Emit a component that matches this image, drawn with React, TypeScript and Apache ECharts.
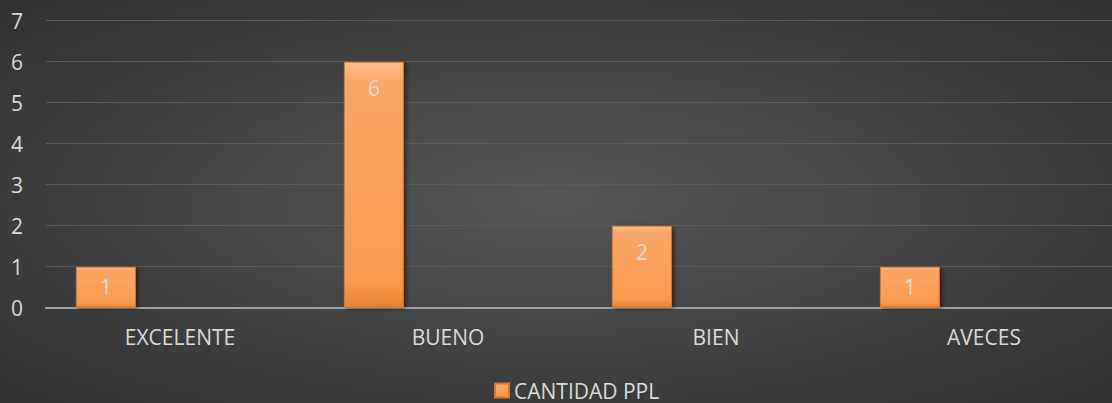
import React, { useEffect, useRef } from "react";
import * as echarts from "echarts";

const categories = ["EXCELENTE", "BUENO", "BIEN", "AVECES"];
const seriesName = "CANTIDAD PPL";
const values = [1, 6, 2, 1];
const yTicks = [0, 1, 2, 3, 4, 5, 6, 7];

const FONT = "'Open Sans', 'Noto Sans', sans-serif";
const TXT = "#d9d9d9";
const FS = 21;

export default function App() {
  const ref = useRef<HTMLDivElement>(null);
  useEffect(() => {
    document.body.style.margin = "0";
    if (!ref.current) return;
    const chart = echarts.init(ref.current, null, { renderer: "svg" });
    const barGrad = new echarts.graphic.LinearGradient(0, 0, 0, 1, [
      { offset: 0, color: "#ffc08e" },
      { offset: 0.08, color: "#fca766" },
      { offset: 0.9, color: "#f99a50" },
      { offset: 1, color: "#e7812f" },
    ]);
    chart.setOption({
      animation: false,
      backgroundColor: {
        type: "radial",
        x: 0.5,
        y: 0.5,
        r: 0.75,
        colorStops: [
          { offset: 0, color: "#565656" },
          { offset: 1, color: "#2e2e2e" },
        ],
      },
      textStyle: { fontFamily: FONT },
      grid: {
        left: 46,
        width: 1072,
        top: 20.7,
        height: 287,
        containLabel: false,
        outerBoundsMode: "none",
      },
      legend: {
        data: [seriesName],
        left: 494,
        top: 380,
        padding: 0,
        itemWidth: 14,
        itemHeight: 14,
        itemGap: 5,
        icon: "rect",
        textStyle: { color: TXT, fontSize: FS, lineHeight: 20, fontFamily: FONT },
      },
      xAxis: {
        type: "category",
        data: categories,
        axisTick: { show: false },
        axisLine: { lineStyle: { color: "#a0a0a0", width: 2 } },
        axisLabel: { color: TXT, fontSize: FS, margin: 19, fontFamily: FONT },
      },
      yAxis: {
        type: "value",
        min: yTicks[0],
        max: yTicks[yTicks.length - 1],
        interval: 1,
        axisLine: { show: false },
        axisTick: { show: false },
        splitLine: { lineStyle: { color: "#5a5a5a", width: 1 } },
        axisLabel: { color: TXT, fontSize: FS, margin: 23, fontFamily: FONT },
      },
      series: [
        {
          name: seriesName,
          type: "bar",
          barWidth: 60,
          barGap: "147%",
          data: values.map((v) => ({
            value: v,
            label: {
              show: true,
              position: v * 41 < 60 ? "inside" : "insideTop",
              distance: 16,
              color: TXT,
              fontSize: FS,
              fontFamily: FONT,
            },
          })),
          itemStyle: {
            color: barGrad,
            borderColor: "#d9772a",
            borderWidth: 1,
            shadowColor: "rgba(0,0,0,0.5)",
            shadowBlur: 4,
            shadowOffsetX: 2,
            shadowOffsetY: 1,
          },
        },
        {
          name: "_empty",
          type: "bar",
          barWidth: 60,
          data: values.map(() => null),
        },
      ],
    });
    return () => chart.dispose();
  }, []);
  return <div ref={ref} style={{ width: 1112, height: 403 }} />;
}
